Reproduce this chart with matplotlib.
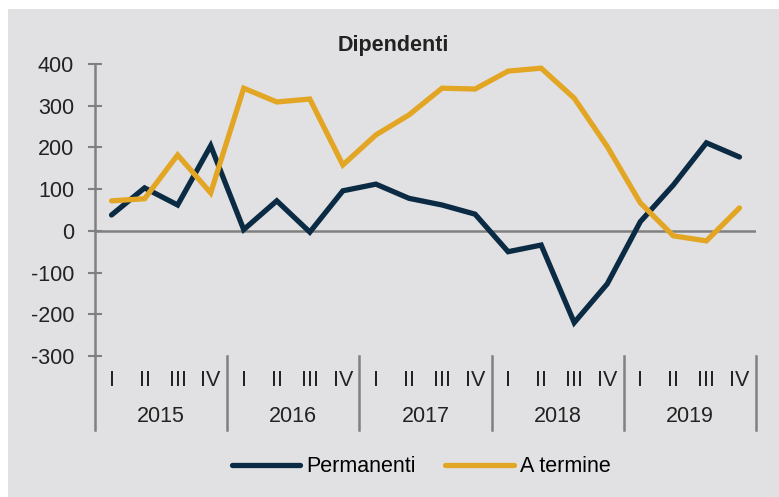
import numpy as np
import matplotlib
matplotlib.use("Agg")
import matplotlib.pyplot as plt
from matplotlib.patches import Rectangle
import matplotlib.transforms as mtransforms

plt.rcParams['font.family'] = ['Liberation Sans', 'DejaVu Sans']
plt.rcParams['axes.unicode_minus'] = False

years = ['2015', '2016', '2017', '2018', '2019']
quarters = ['I', 'II', 'III', 'IV']

permanenti = [38, 103, 62, 204, 3, 72, -3, 96, 112, 78, 62, 40,
              -50, -34, -220, -127, 22, 110, 211, 177]
a_termine = [72, 77, 182, 91, 342, 309, 316, 158, 230, 278, 342, 340,
             383, 390, 318, 202, 67, -12, -24, 55]

W, H = 779, 497
bg = '#e1e1e3'
navy = '#0b2b44'
gold = '#e3a624'
axcol = '#808080'
txt = '#222222'
fs = 15.5

fig = plt.figure(figsize=(W / 100, H / 100), dpi=100)
fig.patch.set_facecolor('white')
# grey panel, white strip on top and left
fig.patches.append(Rectangle((8 / W, 0), 1 - 8 / W, 1 - 9 / H,
                             transform=fig.transFigure, facecolor=bg,
                             edgecolor='none', zorder=-10))

ax = fig.add_axes([95 / W, 1 - 356 / H, (756 - 95) / W, (356 - 64) / H])
ax.set_facecolor('none')

n = len(permanenti)
x = np.arange(n) + 0.5
ax.plot(x, permanenti, color=navy, lw=3.8, solid_capstyle='round',
        solid_joinstyle='miter', label='Permanenti', zorder=3)
ax.plot(x, a_termine, color=gold, lw=3.8, solid_capstyle='round',
        solid_joinstyle='miter', label='A termine', zorder=3)
ax.axhline(0, color=axcol, lw=1.8, zorder=2)

ax.set_xlim(0, n)
ax.set_ylim(-300, 400)
ax.set_yticks(range(-300, 401, 100))
ax.tick_params(axis='y', direction='inout', length=10, width=1.5,
               color=axcol, labelsize=fs, labelcolor=txt, pad=10)
ax.set_xticks([])
for s in ['top', 'right', 'bottom']:
    ax.spines[s].set_visible(False)
ax.spines['left'].set_color(axcol)
ax.spines['left'].set_linewidth(1.8)

trans = mtransforms.blended_transform_factory(ax.transData, ax.transAxes)
for k in range(len(years) + 1):
    ax.plot([4 * k, 4 * k], [0, -74 / 292], color=axcol, lw=1.8,
            transform=trans, clip_on=False)
for i in range(n):
    ax.text(x[i], -24 / 292, quarters[i % 4], transform=trans,
            ha='center', va='center', fontsize=fs, color=txt)
for k, yr in enumerate(years):
    ax.text(4 * k + 2, -60 / 292, yr, transform=trans,
            ha='center', va='center', fontsize=fs, color=txt)

fig.text(393 / W, 1 - 46 / H, 'Dipendenti', ha='center', va='center',
         fontsize=fs, fontweight='bold', color=txt)

fig.legend(loc='center', bbox_to_anchor=(421 / W, 1 - 467 / H), ncol=2,
           frameon=False, fontsize=fs, handlelength=3.2, handletextpad=0.25,
           columnspacing=1.4)

fig.savefig('out.png', dpi=100, facecolor=fig.get_facecolor())
